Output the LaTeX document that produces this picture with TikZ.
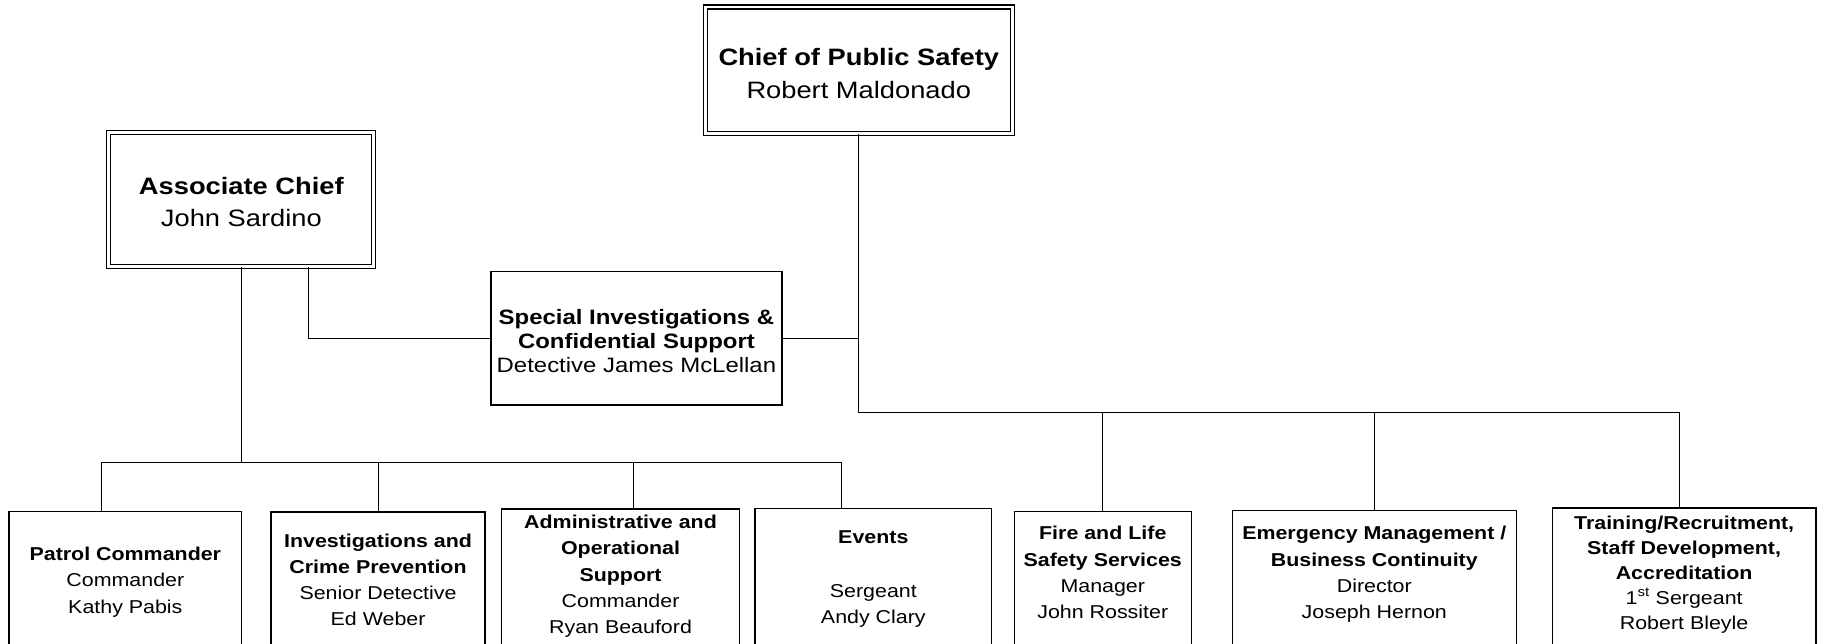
\documentclass[tikz,border=0pt]{standalone}
\usepackage{fontspec}
\setmainfont{Liberation Sans}[FakeStretch=1.15]
\usetikzlibrary{calc}

\begin{document}
\begin{tikzpicture}[x=1pt,y=1pt,yscale=-1,xscale=1,
	unit/.style={draw, line width=1.2pt, rectangle, inner xsep=0pt, inner ysep=0pt, align=center, anchor=north, font=\fontsize{16}{22.5}\selectfont},
	head/.style={unit, double, line width=1pt, double distance=2.4pt, font=\fontsize{20.4}{27.8}\selectfont},
	link/.style={line width=0.9pt}]
	\useasboundingbox (0,0) rectangle (1568,552.8);
	\clip (0,0) rectangle (1568,552.8);

	%Shape: Double Rectangle
	\node [head, minimum width=264.1, text height=78.5pt, text depth=30.6pt] (chief) at (738.25,5.5) {\textbf{Chief of Public Safety}\\Robert Maldonado};
	%Shape: Double Rectangle
	\node [head, minimum width=227.8, text height=80.8pt, text depth=34pt] (assoc) at (207.5,113.5) {\textbf{Associate Chief}\\John Sardino};
	%Shape: Rectangle
	\node [unit, minimum width=250, text height=86.6pt, text depth=27.8pt, font=\fontsize{17.9}{20.5}\selectfont] (special) at (547.1,233) {\textbf{Special Investigations \&}\\\textbf{Confidential Support}\\Detective James McLellan};

	%Shape: Rectangle
	\node [unit, minimum width=200.1, text height=87.5pt, text depth=43.5pt] (patrol) at (107.75,439) {\textbf{Patrol Commander}\\Commander\\Kathy Pabis};
	%Shape: Rectangle
	\node [unit, minimum width=184, text height=98pt, text depth=32.6pt] (invest) at (325,439.4) {\textbf{Investigations and}\\\textbf{Crime Prevention}\\Senior Detective\\Ed Weber};
	%Shape: Rectangle
	\node [unit, minimum width=204.3, text height=107pt, text depth=26pt] (admin) at (533.45,437) {\textbf{Administrative and}\\\textbf{Operational}\\\textbf{Support}\\Commander\\Ryan Beauford};
	%Shape: Rectangle
	\node [unit, minimum width=203.5, text height=98.9pt, text depth=34.6pt] (events) at (750.75,436.5) {\textbf{Events}\\[24pt]Sergeant\\Andy Clary};
	%Shape: Rectangle
	\node [unit, minimum width=152, text height=92pt, text depth=39pt] (fire) at (948,439) {\textbf{Fire and Life}\\\textbf{Safety Services}\\Manager\\John Rossiter};
	%Shape: Rectangle
	\node [unit, minimum width=244, text height=92.6pt, text depth=39pt] (emerg) at (1181.4,438.4) {\textbf{Emergency Management /}\\\textbf{Business Continuity}\\Director\\Joseph Hernon};
	%Shape: Rectangle
	\node [unit, minimum width=226.5, text height=104.3pt, text depth=29.7pt, font=\fontsize{16}{21.5}\selectfont] (train) at (1447.75,436) {\textbf{Training/Recruitment,}\\\textbf{Staff Development,}\\\textbf{Accreditation}\\1\textsuperscript{st} Sergeant\\Robert Bleyle};

	\coordinate (lbus) at (207.5,397.8);
	\coordinate (rbus) at (738.25,354.5);
	\coordinate (sidrop) at ($(assoc.south)+(57.9,0)$);
	\coordinate (admtop) at ($(admin.north)+(11,0)$);
	\coordinate (traintop) at ($(train.north)+(-4.2,0)$);

	%Straight Lines
	\draw [link] (sidrop) |- (special.west);
	%Straight Lines
	\draw [link] (special.east) -- (special.east -| chief.south);
	%Straight Lines
	\draw [link] (assoc.south) -- (lbus);
	%Straight Lines
	\draw [link] ([xshift=-20.35]patrol.north) |- (lbus) -| ([xshift=-27.75]events.north);
	%Straight Lines
	\draw [link] (invest.north) -- (invest.north |- lbus);
	%Straight Lines
	\draw [link] (admtop) -- (admtop |- lbus);
	%Straight Lines
	\draw [link] (chief.south) -- (rbus) -| (traintop);
	%Straight Lines
	\draw [link] (fire.north) -- (fire.north |- rbus);
	%Straight Lines
	\draw [link] (emerg.north) -- (emerg.north |- rbus);

\end{tikzpicture}
\end{document}
